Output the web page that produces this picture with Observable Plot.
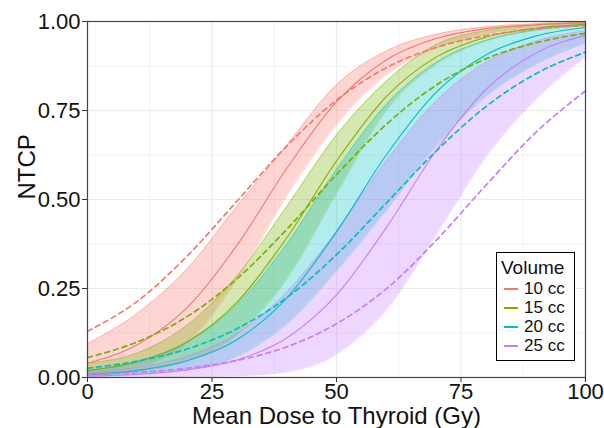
<!DOCTYPE html>
<html>
<head>
<meta charset="utf-8">
<script src="https://cdn.jsdelivr.net/npm/d3@7"></script>
<script src="https://cdn.jsdelivr.net/npm/@observablehq/plot@0.6"></script>
<style>
  html, body { margin: 0; padding: 0; background: #fff; }
  #wrap { position: relative; width: 604px; height: 428px; font-family: "Liberation Sans", Arial, sans-serif; }
  #legend { position: absolute; left: 496px; top: 252px; width: 77px; height: 107px; border: 1px solid #000; background: #fff; color: #111; }
  #legend .t { position: absolute; left: 4px; top: 5px; font-size: 19px; line-height: 19px; }
  #legend .it { position: absolute; left: 27px; font-size: 17px; line-height: 17px; }
  #legend .k { position: absolute; left: 7px; width: 14px; height: 1.5px; }
</style>
</head>
<body>
<div id="wrap">
  <div id="chart"></div>
  <div id="legend"></div>
</div>
<script>
// ---- data ----
const dose = [0, 10, 20, 30, 40, 50, 60, 70, 80, 90, 100];
const volumes = ["10 cc", "15 cc", "20 cc", "25 cc"];
const colors = ["#F8766D", "#7CAE00", "#00BFC4", "#C77CFF"];

// solid curves
const solid10 = [0.040, 0.092, 0.196, 0.371, 0.587, 0.774, 0.892, 0.952, 0.980, 0.991, 0.996];
const solid15 = [0.019, 0.044, 0.100, 0.211, 0.392, 0.608, 0.789, 0.900, 0.956, 0.981, 0.992];
const solid20 = [0.008, 0.020, 0.047, 0.106, 0.223, 0.409, 0.625, 0.801, 0.906, 0.959, 0.983];
const solid25 = [0.004, 0.009, 0.021, 0.049, 0.111, 0.232, 0.421, 0.637, 0.809, 0.911, 0.961];

// dashed curves
const dashed10 = [0.130, 0.214, 0.341, 0.495, 0.650, 0.779, 0.870, 0.927, 0.960, 0.979, 0.989];
const dashed15 = [0.056, 0.100, 0.171, 0.277, 0.416, 0.570, 0.711, 0.821, 0.895, 0.940, 0.967];
const dashed20 = [0.026, 0.046, 0.080, 0.137, 0.224, 0.345, 0.490, 0.636, 0.761, 0.853, 0.914];
const dashed25 = [0.008, 0.014, 0.026, 0.048, 0.086, 0.151, 0.249, 0.385, 0.540, 0.688, 0.805];

// band lower / upper bounds
const lower10 = [0.010, 0.030, 0.095, 0.275, 0.510, 0.710, 0.850, 0.925, 0.965, 0.985, 0.993];
const upper10 = [0.095, 0.180, 0.305, 0.480, 0.652, 0.822, 0.917, 0.964, 0.985, 0.994, 0.998];
const lower15 = [0.006, 0.017, 0.047, 0.120, 0.277, 0.517, 0.750, 0.880, 0.945, 0.975, 0.988];
const upper15 = [0.040, 0.069, 0.147, 0.285, 0.480, 0.681, 0.832, 0.935, 0.975, 0.990, 0.997];
const lower20 = [0.003, 0.008, 0.022, 0.060, 0.150, 0.300, 0.470, 0.650, 0.790, 0.880, 0.940];
const upper20 = [0.020, 0.045, 0.099, 0.204, 0.375, 0.584, 0.767, 0.885, 0.947, 0.977, 0.990];
const lower25 = [0.001, 0.002, 0.003, 0.005, 0.016, 0.065, 0.190, 0.400, 0.620, 0.780, 0.900];
const upper25 = [0.013, 0.028, 0.060, 0.123, 0.239, 0.411, 0.608, 0.776, 0.885, 0.945, 0.974];

// axis ticks
const xTicks = [0, 25, 50, 75, 100];
const xMinor = [12.5, 37.5, 62.5, 87.5];
const yTicks = [0, 0.25, 0.5, 0.75, 1];
const yMinor = [0.125, 0.375, 0.625, 0.875];
const xTitle = "Mean Dose to Thyroid (Gy)";
const yTitle = "NTCP";
const legendTitle = "Volume";

// ---- build table ----
const solids = [solid10, solid15, solid20, solid25];
const dasheds = [dashed10, dashed15, dashed20, dashed25];
const lowers = [lower10, lower15, lower20, lower25];
const uppers = [upper10, upper15, upper20, upper25];
const rows = [];
volumes.forEach((v, i) => {
  dose.forEach((d, j) => {
    rows.push({dose: d, vol: v, solid: solids[i][j], dashed: dasheds[i][j], lo: lowers[i][j], hi: uppers[i][j]});
  });
});

const curve = "monotone-x";
const chart = Plot.plot({
  width: 604,
  height: 428,
  marginLeft: 87,
  marginRight: 19,
  marginTop: 21,
  marginBottom: 51,
  x: {domain: [0, 100]},
  y: {domain: [0, 1]},
  color: {domain: volumes, range: colors},
  style: {fontFamily: '"Liberation Sans", Arial, sans-serif', background: "white", overflow: "visible"},
  marks: [
    Plot.ruleX(xMinor, {stroke: "#ebebeb", strokeWidth: 0.7}),
    Plot.ruleY(yMinor, {stroke: "#ebebeb", strokeWidth: 0.7}),
    Plot.ruleX(xTicks, {stroke: "#ebebeb", strokeWidth: 1.2}),
    Plot.ruleY(yTicks, {stroke: "#ebebeb", strokeWidth: 1.2}),
    Plot.areaY(rows, {x: "dose", y1: "lo", y2: "hi", fill: "vol", fillOpacity: 0.3, curve}),
    Plot.line(rows, {x: "dose", y: "lo", stroke: "vol", strokeOpacity: 0.5, strokeWidth: 0.7, curve}),
    Plot.line(rows, {x: "dose", y: "hi", stroke: "vol", strokeOpacity: 0.5, strokeWidth: 0.7, curve}),
    Plot.line(rows, {x: "dose", y: "solid", stroke: "vol", strokeWidth: 1.1, curve}),
    Plot.line(rows, {x: "dose", y: "dashed", stroke: "vol", strokeWidth: 1.7, strokeDasharray: "5,4", curve}),
    Plot.frame({stroke: "#444", strokeWidth: 1.2}),
    Plot.axisX({ticks: xTicks, tickSize: 5, tickPadding: 1, fontSize: 22, stroke: "#333", fill: "#111", label: null, tickFormat: d => String(d)}),
    Plot.axisY({ticks: yTicks, tickSize: 5, tickPadding: 2, fontSize: 22, stroke: "#333", fill: "#111", label: null, tickFormat: d3.format(".2f")}),
    Plot.text([xTitle], {frameAnchor: "bottom", dy: 46, fontSize: 24, fill: "#111", text: d => d}),
    Plot.text([yTitle], {frameAnchor: "left", dx: -60, rotate: -90, fontSize: 24, fill: "#111", text: d => d})
  ]
});
document.getElementById("chart").appendChild(chart);

// ---- legend ----
const lg = document.getElementById("legend");
const t = document.createElement("div");
t.className = "t";
t.textContent = legendTitle;
lg.appendChild(t);
volumes.forEach((v, i) => {
  const k = document.createElement("div");
  k.className = "k";
  k.style.top = (35 + i * 19) + "px";
  k.style.background = colors[i];
  lg.appendChild(k);
  const it = document.createElement("div");
  it.className = "it";
  it.style.top = (27 + i * 19) + "px";
  it.textContent = v;
  lg.appendChild(it);
});
</script>
</body>
</html>
